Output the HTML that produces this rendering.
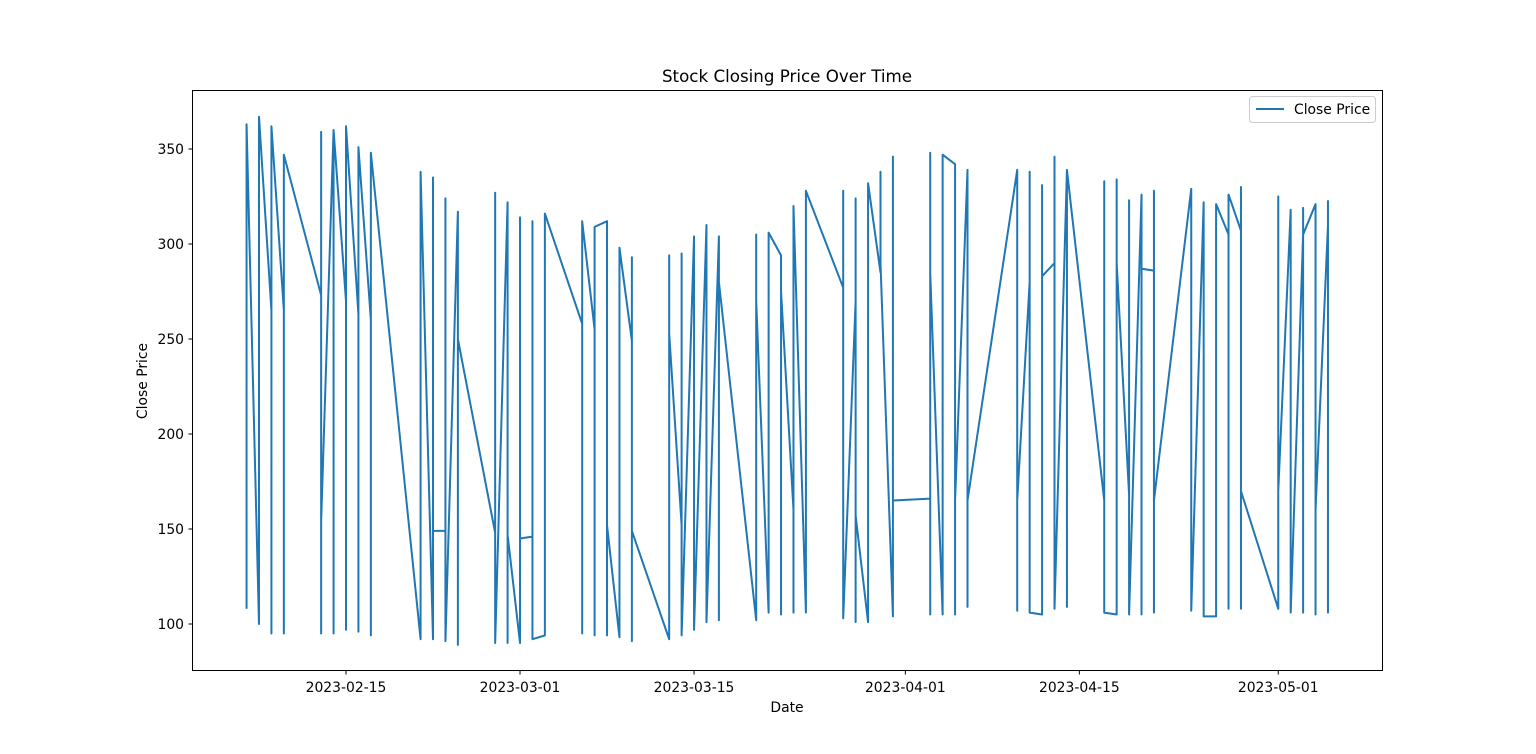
<!DOCTYPE html>
<html><head><meta charset="utf-8"><style>
body{margin:0;background:#fff;}
svg{display:block;font-family:"DejaVu Sans","Liberation Sans",sans-serif;}
</style></head><body>
<svg id="chart" width="1536" height="754">
<rect x="0" y="0" width="1536" height="754" fill="#fff"/>
<text x="787" y="82" text-anchor="middle" font-size="16.7">Stock Closing Price Over Time</text>
<g id="plot"></g>
<text x="787" y="712" text-anchor="middle" font-size="13.9">Date</text>
<text transform="translate(147,381) rotate(-90)" text-anchor="middle" font-size="13.9">Close Price</text>
<g>
<rect x="1249.5" y="96.5" width="126" height="26" rx="3" fill="#fff" stroke="#ccc"/>
<line x1="1256" y1="109" x2="1284" y2="109" stroke="#1f77b4" stroke-width="2"/>
<text x="1294" y="114" font-size="13.9">Close Price</text>
</g>
</svg>
<script>
const dates=["2023-02-07","2023-02-08","2023-02-09","2023-02-10","2023-02-13","2023-02-14","2023-02-15","2023-02-16","2023-02-17","2023-02-21","2023-02-22","2023-02-23","2023-02-24","2023-02-27","2023-02-28","2023-03-01","2023-03-02","2023-03-03","2023-03-06","2023-03-07","2023-03-08","2023-03-09","2023-03-10","2023-03-13","2023-03-14","2023-03-15","2023-03-16","2023-03-17","2023-03-20","2023-03-21","2023-03-22","2023-03-23","2023-03-24","2023-03-27","2023-03-28","2023-03-29","2023-03-30","2023-03-31","2023-04-03","2023-04-04","2023-04-05","2023-04-06","2023-04-10","2023-04-11","2023-04-12","2023-04-13","2023-04-14","2023-04-17","2023-04-18","2023-04-19","2023-04-20","2023-04-21","2023-04-24","2023-04-25","2023-04-26","2023-04-27","2023-04-28","2023-05-01","2023-05-02","2023-05-03","2023-05-04","2023-05-05"];
const closeValues=[[108,363],[100,367],[265,95,362],[265,95,347],[273,95,359,154],[360,95,360],[270,97,362],[263,96,351],[260,94,348],[92,338],[92,335,149],[149,324,91],[317,89,250],[148,327,90],[322,90,147],[90,314,145],[146,312,92],[94,316],[258,95,312],[255,94,309],[312,94,152],[93,298],[249,91,293,149],[92,294,253],[152,295,94],[304,97],[310,101],[304,102,280],[102,305,270],[106,306],[294,105,275],[160,106,320],[106,328],[277,328,103],[270,324,101,157],[101,332],[285,338,290],[104,346,165],[166,105,348,285],[105,347],[342,105,165],[339,109,165],[339,107,165],[280,338,106],[105,331,283],[290,346,108],[339,109,339],[165,333,106],[105,334,290],[168,323,105],[326,105,287],[286,106,328,165],[329,107],[322,104],[104,321],[305,108,326],[307,330,108,170],[108,325,170],[318,106],[305,319,106,305],[321,105,160],[310,106,323]];
const yTicks=[100,150,200,250,300,350];
const xTickLabels=["2023-02-15","2023-03-01","2023-03-15","2023-04-01","2023-04-15","2023-05-01"];

const NS="http://www.w3.org/2000/svg";
const plot=document.getElementById('plot');
const L=192,R=1382,T=90,B=670;
const base=Date.parse("2023-02-15");
function xs(d){return 346+(Date.parse(d)-base)/86400000*12.43;}
function ys(v){return 624-(v-100)*1.9;}
function mk(tag,attrs){const e=document.createElementNS(NS,tag);for(const k in attrs)e.setAttribute(k,attrs[k]);plot.appendChild(e);return e;}
let pts=[];
dates.forEach((d,i)=>{closeValues[i].forEach(v=>pts.push(xs(d).toFixed(2)+","+ys(v).toFixed(2)));});
const line=mk('polyline',{points:pts.join(' '),fill:'none',stroke:'#1f77b4','stroke-width':2,'stroke-linejoin':'round'});


const fr=mk('rect',{x:L+.5,y:T+.5,width:R-L,height:B-T,fill:'none',stroke:'#000','stroke-width':1});


yTicks.forEach(v=>{const y=ys(v);
mk('line',{x1:L-3.5,x2:L+.5,y1:y,y2:y,stroke:'#000'});
const t=mk('text',{x:L-8,y:y+5,'text-anchor':'end','font-size':13.9});t.textContent=v;

});
xTickLabels.forEach(d=>{const x=xs(d);
mk('line',{x1:x,x2:x,y1:B+.5,y2:B+4.5,stroke:'#000'});
const t=mk('text',{x:x,y:B+22,'text-anchor':'middle','font-size':13.9});t.textContent=d;

});
</script>
</body></html>
